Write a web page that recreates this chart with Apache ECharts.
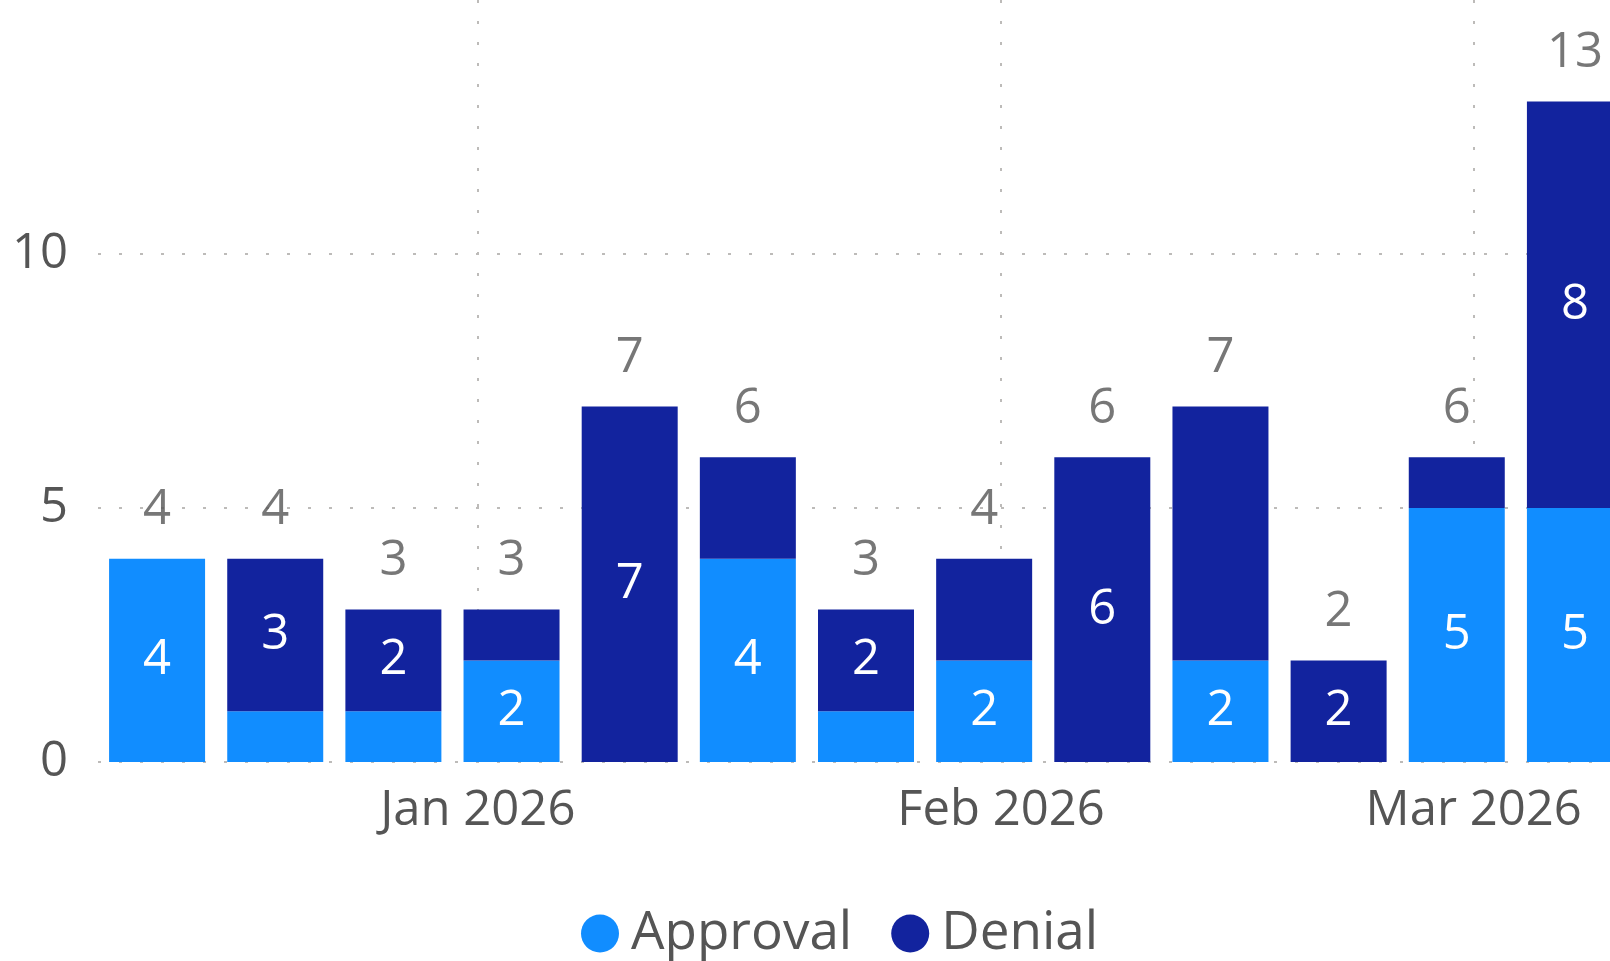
<!DOCTYPE html>
<html>
<head>
<meta charset="utf-8">
<script src="https://cdn.jsdelivr.net/npm/echarts@6/dist/echarts.min.js"></script>
<style>
  html, body { margin: 0; padding: 0; background: #fff; }
  #chart { width: 1610px; height: 961px; }
</style>
</head>
<body>
<div id="chart"></div>
<script>
// weekly buckets (week ending date)
const weeks = ['2025-12-13', '2025-12-20', '2025-12-27', '2026-01-03', '2026-01-10', '2026-01-17',
  '2026-01-24', '2026-01-31', '2026-02-07', '2026-02-14', '2026-02-21', '2026-02-28', '2026-03-07'];
const approval = [4, 1, 1, 2, 0, 4, 1, 2, 0, 2, 0, 5, 5];
const denial = [0, 3, 2, 1, 7, 2, 2, 2, 6, 5, 2, 1, 8];
// labels that are actually shown inside the segments
const approvalLabels = [4, null, null, 2, null, 4, null, 2, null, 2, null, 5, 5];
const denialLabels = [null, 3, 2, null, 7, null, 2, null, 6, null, 2, null, 8];
const monthTicks = ['2026-01-01', '2026-02-01', '2026-03-01'];
const monthNames = ['Jan', 'Feb', 'Mar', 'Apr', 'May', 'Jun', 'Jul', 'Aug', 'Sep', 'Oct', 'Nov', 'Dec'];

const FONT = '"Segoe UI", "Open Sans", sans-serif';
const TEXT = '#555555';
const GRID = '#BDBBB9';
const HALF_WEEK = 3.5 * 24 * 3600 * 1000;

function day(s) {
  const p = s.split('-').map(Number);
  return new Date(p[0], p[1] - 1, p[2]).getTime();
}

const totals = approval.map((a, i) => a + denial[i]);

const chart = echarts.init(document.getElementById('chart'));
chart.setOption({
  animation: false,
  textStyle: { fontFamily: FONT },
  // last week's bar runs past the right edge, as in the original
  grid: { left: 98, right: -24, top: 0, bottom: 199, containLabel: false, outerBoundsMode: 'none' },
  legend: {
    data: ['Approval', 'Denial'],
    icon: 'circle',
    left: 581,
    top: 907,
    padding: 0,
    itemWidth: 52,
    itemHeight: 38,
    itemGap: 39,
    textStyle: { fontSize: 53, color: TEXT, fontFamily: FONT }
  },
  xAxis: [
    {
      type: 'category',
      data: weeks,
      boundaryGap: true,
      axisLine: { show: false },
      axisTick: { show: false },
      axisLabel: { show: false },
      splitLine: { show: false }
    },
    {
      // same span as timestamps, only for the month grid lines and labels
      type: 'value',
      position: 'bottom',
      min: day(weeks[0]) - HALF_WEEK,
      max: day(weeks[weeks.length - 1]) + HALF_WEEK,
      axisLine: { show: false },
      axisTick: { show: false, customValues: monthTicks.map(day) },
      axisLabel: {
        customValues: monthTicks.map(day),
        fontSize: 49,
        color: TEXT,
        margin: 25,
        fontFamily: FONT,
        formatter: v => {
          const d = new Date(v);
          return monthNames[d.getMonth()] + ' ' + d.getFullYear();
        }
      },
      splitLine: { show: true, lineStyle: { color: GRID, width: 2, type: [3, 18] } }
    }
  ],
  yAxis: {
    type: 'value',
    min: 0,
    max: 15,
    interval: 5,
    axisLine: { show: false },
    axisTick: { show: false },
    axisLabel: {
      fontSize: 49,
      color: TEXT,
      margin: 30,
      fontFamily: FONT,
      showMaxLabel: false
    },
    splitLine: { show: true, showMaxLine: false, lineStyle: { color: GRID, width: 2, type: [3, 18] } }
  },
  series: [
    {
      name: 'Approval',
      type: 'bar',
      xAxisIndex: 0,
      stack: 'total',
      barWidth: 96,
      itemStyle: { color: '#118DFF' },
      label: {
        show: true,
        position: 'inside',
        color: '#fff',
        fontSize: 49,
        fontFamily: FONT,
        formatter: p => approvalLabels[p.dataIndex] == null ? '' : String(approvalLabels[p.dataIndex])
      },
      data: approval
    },
    {
      name: 'Denial',
      type: 'bar',
      xAxisIndex: 0,
      stack: 'total',
      barWidth: 96,
      itemStyle: { color: '#12239E' },
      label: {
        show: true,
        position: 'inside',
        color: '#fff',
        fontSize: 49,
        fontFamily: FONT,
        formatter: p => denialLabels[p.dataIndex] == null ? '' : String(denialLabels[p.dataIndex])
      },
      data: denial
    },
    {
      name: 'Total',
      type: 'scatter',
      xAxisIndex: 0,
      symbolSize: 0,
      silent: true,
      z: 5,
      label: {
        show: true,
        position: 'top',
        distance: 24,
        color: TEXT,
        fontSize: 49,
        fontFamily: FONT
      },
      data: totals
    }
  ]
});
</script>
</body>
</html>
